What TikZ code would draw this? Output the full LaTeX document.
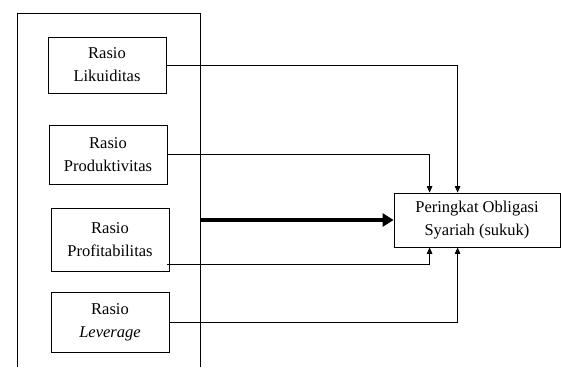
\documentclass[tikz,border=0pt]{standalone}
\usepackage{fontspec}
\setmainfont{Liberation Serif}
\usetikzlibrary{arrows.meta,shapes}

\tikzset{ratio/.style={draw,align=center,minimum width=118pt,inner sep=0pt,line width=0.8pt,font=\fontsize{16.5}{23}\selectfont},
         link/.style={line width=0.8pt,-{Triangle[length=6.5pt,width=5.5pt]}}}

\begin{document}
\begin{tikzpicture}[x=1pt,y=-1pt,auto,swap]
	\useasboundingbox (0,0) rectangle (561,367);
	% frame round the ratios
	\draw[line width=0.8pt] (17,367) -- (17,13) -- (200,13) -- (200,367);
	\coordinate (fr) at (200,220);
	% the four ratios
	\foreach \pos/\name/\h/\txt in {{(107,65)/b1/56/Rasio\\Likuiditas}, {(108,154.5)/b2/59/Rasio\\Produktivitas},
	                                {(110,240)/b3/63/Rasio\\Profitabilitas}, {(110,322)/b4/60/Rasio\\\textit{Leverage}}}
		\node[ratio,minimum height=\h pt] (\name) at \pos {\txt};
	% the rating
	\node[ratio,minimum width=166pt,minimum height=54pt] (t) at (477,220) {Peringkat Obligasi\\Syariah (sukuk)};
	\draw[line width=3.5pt,-{Triangle[length=11pt,width=13pt]}] (fr) -- (t.west);
	\draw[link] (b1.east) -| ([xshift=64pt]t.north west);
	\draw[link] (b2.east) -| ([xshift=36pt]t.north west);
	\draw[link] ([shift={(-2pt,8pt)}]b3.south east) -| ([xshift=36pt]t.south west);
	\draw[link] (b4.east) -| ([xshift=64pt]t.south west);
\end{tikzpicture}
\end{document}
